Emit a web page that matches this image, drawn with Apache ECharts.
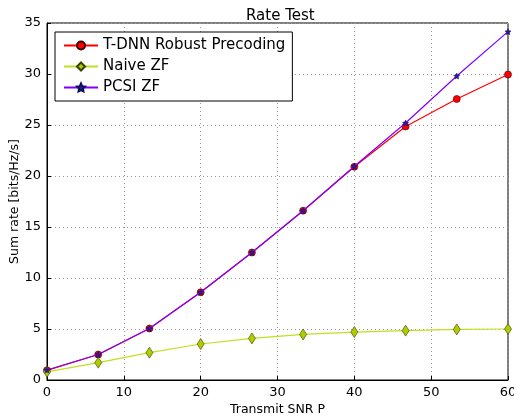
<!DOCTYPE html>
<html>
<head>
    <meta charset="utf-8">
    <title>Rate Test</title>
    <script src="https://cdn.jsdelivr.net/npm/echarts@6/dist/echarts.min.js"></script>
    <style>
        body { margin: 0; background: #fff; }
        #chart { width: 514px; height: 416px; }
    </style>
</head>
<body>
<div id="chart"></div>
<script type="text/javascript">
    // x positions (Transmit SNR P)
    var snr = [0, 6.67, 13.33, 20, 26.67, 33.33, 40, 46.67, 53.33, 60];
    var tdnn = [0.95, 2.5, 5.05, 8.6, 12.5, 16.6, 20.9, 24.85, 27.55, 29.95];
    var naive = [0.8, 1.7, 2.68, 3.53, 4.08, 4.47, 4.7, 4.84, 4.96, 5.0];
    var pcsi = [0.98, 2.5, 5.05, 8.6, 12.5, 16.6, 20.95, 25.2, 29.8, 34.15];

    function pairs(ys) {
        var out = [];
        for (var i = 0; i < snr.length; i++) {
            out.push([snr[i], ys[i]]);
        }
        return out;
    }

    var font = 'DejaVu Sans';
    var myChart = echarts.init(document.getElementById('chart'));

    var option = {
        animation: false,
        backgroundColor: '#fff',
        textStyle: { fontFamily: font },
        title: {
            text: 'Rate Test',
            left: 241,
            top: 4,
            textStyle: { fontFamily: font, fontSize: 15, fontWeight: 'normal', color: '#000' }
        },
        legend: {
            orient: 'vertical',
            left: 55,
            top: 32,
            padding: [6, 7, 6, 8],
            itemGap: 6,
            itemWidth: 34,
            itemHeight: 10,
            backgroundColor: '#fff',
            borderColor: '#000',
            borderWidth: 1,
            borderRadius: 0,
            textStyle: { fontFamily: font, fontSize: 15, color: '#000' },
            data: ['T-DNN Robust Precoding', 'Naive ZF', 'PCSI ZF']
        },
        grid: {
            left: 47,
            right: 6,
            top: 23,
            bottom: 36,
            outerBoundsMode: 'none',
            show: true,
            borderColor: '#000',
            borderWidth: 1
        },
        xAxis: {
            type: 'value',
            min: 0,
            max: 60,
            interval: 10,
            name: 'Transmit SNR P',
            nameLocation: 'middle',
            nameGap: 23,
            nameMoveOverlap: false,
            nameTextStyle: { fontFamily: font, fontSize: 12.5, color: '#000' },
            axisLine: { lineStyle: { color: '#000' } },
            axisTick: { inside: true, length: 4, lineStyle: { color: '#000' } },
            axisLabel: { fontFamily: font, fontSize: 13, color: '#000', margin: 6 },
            splitLine: { lineStyle: { color: '#999', type: [1, 3] } }
        },
        yAxis: {
            type: 'value',
            min: 0,
            max: 35,
            interval: 5,
            name: 'Sum rate [bits/Hz/s]',
            nameLocation: 'middle',
            nameGap: 26,
            nameMoveOverlap: false,
            nameTextStyle: { fontFamily: font, fontSize: 12.5, color: '#000' },
            axisLine: { lineStyle: { color: '#000' } },
            axisTick: { inside: true, length: 4, lineStyle: { color: '#000' } },
            axisLabel: { fontFamily: font, fontSize: 13, color: '#000', margin: 6 },
            splitLine: { lineStyle: { color: '#999', type: [1, 3] } }
        },
        series: [
            {
                name: 'T-DNN Robust Precoding',
                type: 'line',
                data: pairs(tdnn),
                symbol: 'circle',
                symbolSize: 7,
                lineStyle: { color: '#ff0000', width: 1.2 },
                itemStyle: { color: '#ff0000', borderColor: '#400000', borderWidth: 0.6 },
                z: 2
            },
            {
                name: 'Naive ZF',
                type: 'line',
                data: pairs(naive),
                symbol: 'diamond',
                symbolSize: [7, 11],
                lineStyle: { color: '#c0e020', width: 1.2 },
                itemStyle: { color: '#b0cc00', borderColor: '#3a4000', borderWidth: 0.6 },
                z: 3
            },
            {
                name: 'PCSI ZF',
                type: 'line',
                data: pairs(pcsi),
                symbol: 'path://M0,-10 L2.9,-4 L9.5,-3.1 L4.8,1.5 L5.9,8.1 L0,5 L-5.9,8.1 L-4.8,1.5 L-9.5,-3.1 L-2.9,-4 Z',
                symbolSize: 6,
                lineStyle: { color: '#7f00ff', width: 1.2 },
                itemStyle: { color: '#2a1aa0', borderColor: '#101060', borderWidth: 0.5 },
                z: 4
            }
        ]
    };

    myChart.setOption(option);
</script>
</body>
</html>
